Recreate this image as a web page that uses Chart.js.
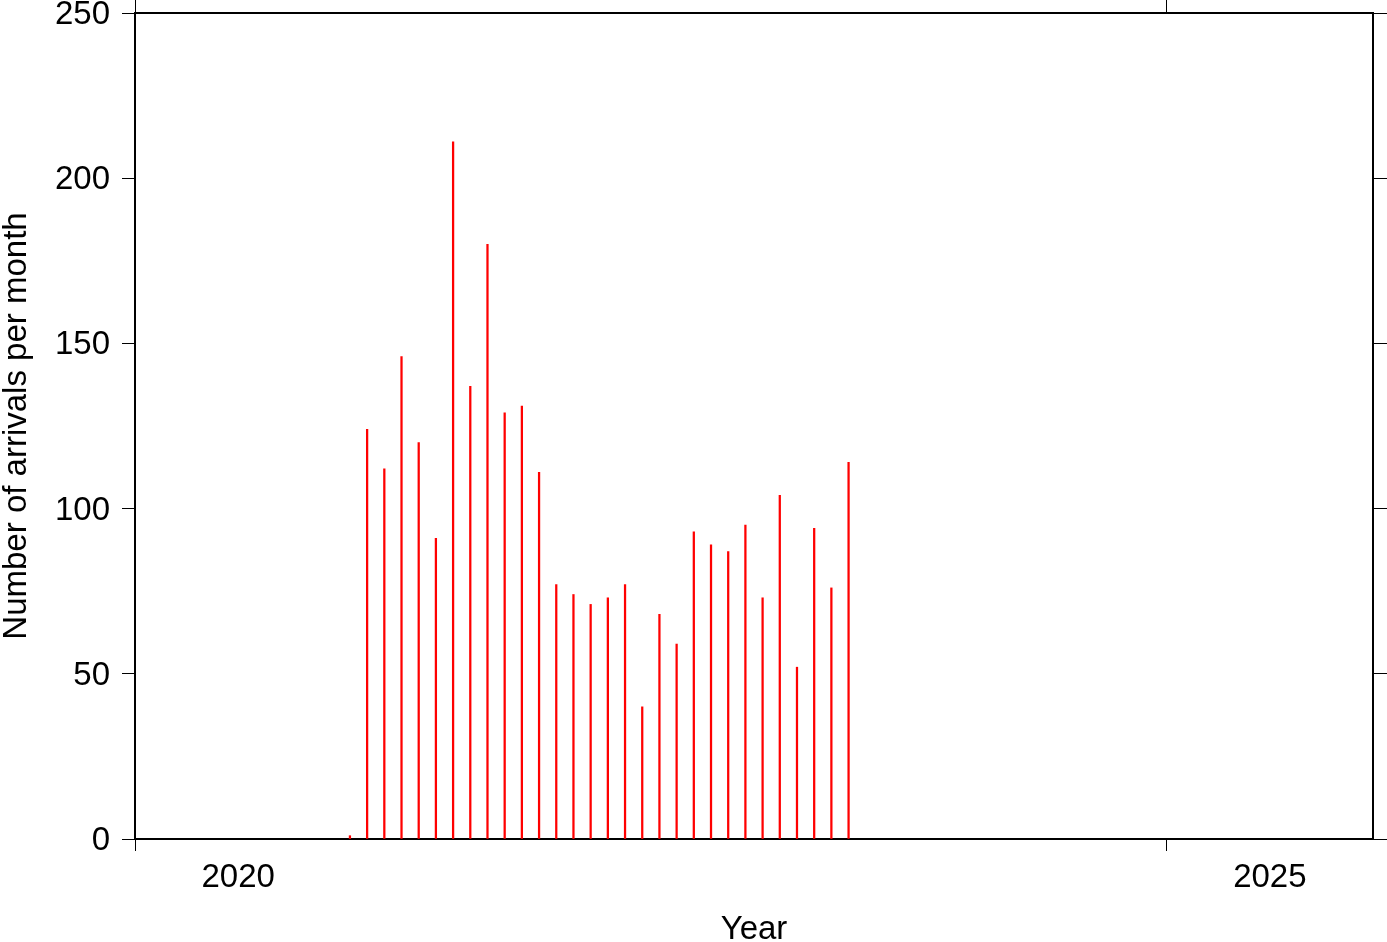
<!DOCTYPE html>
<html>
<head>
<meta charset="utf-8">
<script src="https://cdn.jsdelivr.net/npm/chart.js@4/dist/chart.umd.min.js"></script>
<style>
html,body{margin:0;padding:0;background:#fff;}
canvas{display:block;}
</style>
</head>
<body>
<canvas id="c" width="1387" height="942"></canvas>
<script>
const months = ['2021-01','2021-02','2021-03','2021-04','2021-05','2021-06','2021-07','2021-08','2021-09','2021-10','2021-11','2021-12',
                '2022-01','2022-02','2022-03','2022-04','2022-05','2022-06','2022-07','2022-08','2022-09','2022-10','2022-11','2022-12',
                '2023-01','2023-02','2023-03','2023-04','2023-05','2023-06'];
const arrivals = [1,124,112,146,120,91,211,137,180,129,131,111,
                  77,74,71,73,77,40,68,59,93,89,87,95,
                  73,104,52,94,76,114];
const xTickYears = [2020, 2025];
const xRange = [2020, 2026];
const yTicks = [0, 50, 100, 150, 200, 250];

const FONT = 'Liberation Sans, Arial, Helvetica, sans-serif';

const points = months.map((m, i) => {
  const [y, mo] = m.split('-').map(Number);
  return { x: y + (mo - 0.5) / 12, y: arrivals[i] };
});

const xBottomTicks = [];
xTickYears.forEach(y => { xBottomTicks.push({ value: y }); xBottomTicks.push({ value: y + 0.5 }); });

function noPad(s) { s.paddingTop = 0; s.paddingBottom = 0; s.paddingLeft = 0; s.paddingRight = 0; }

new Chart(document.getElementById('c'), {
  type: 'bar',
  data: {
    datasets: [{
      data: points,
      backgroundColor: 'rgb(255,0,0)',
      borderWidth: 0,
      barThickness: 1.6,
      xAxisID: 'x',
      yAxisID: 'y'
    }]
  },
  options: {
    responsive: false,
    animation: false,
    layout: { padding: 0 },
    plugins: { legend: { display: false }, tooltip: { enabled: false } },
    scales: {
      x: {
        type: 'linear',
        position: 'bottom',
        min: xRange[0], max: xRange[1],
        offset: false,
        afterBuildTicks: s => { s.ticks = xBottomTicks.map(t => ({ value: t.value })); },
        afterFit: s => { s.height = 103; noPad(s); },
        ticks: {
          autoSkip: false, maxRotation: 0, padding: 7,
          color: '#000', font: { family: FONT, size: 33 },
          callback: v => (v % 1 ? String(Math.floor(v)) : '')
        },
        grid: {
          offset: false, drawOnChartArea: false, drawTicks: true, tickLength: 12,
          lineWidth: 1,
          color: '#000',
          tickColor: ctx => (ctx.tick && ctx.tick.value % 1 ? 'rgba(0,0,0,0)' : '#000')
        },
        border: { display: true, color: '#000', width: 2 },
        title: {
          display: true, text: 'Year', color: '#000',
          font: { family: FONT, size: 33, lineHeight: 0.8 },
          padding: { top: 0, bottom: -1 }
        }
      },
      xTop: {
        type: 'linear',
        position: 'top',
        min: xRange[0], max: xRange[1],
        offset: false,
        afterBuildTicks: s => { s.ticks = xTickYears.map(v => ({ value: v })); },
        afterFit: s => { s.height = 13; noPad(s); },
        ticks: { display: false },
        grid: { offset: false, drawOnChartArea: false, drawTicks: true, tickLength: 13, color: '#000', lineWidth: 1 },
        border: { display: true, color: '#000', width: 2 }
      },
      y: {
        type: 'linear',
        position: 'left',
        min: 0, max: 250,
        afterBuildTicks: s => { s.ticks = yTicks.map(v => ({ value: v })); },
        afterFit: s => { s.width = 135; noPad(s); },
        ticks: { padding: 12, labelOffset: 2, color: '#000', font: { family: FONT, size: 33 } },
        grid: { drawOnChartArea: false, drawTicks: true, tickLength: 13, color: '#000', lineWidth: 1 },
        border: { display: true, color: '#000', width: 2 },
        title: {
          display: true, text: 'Number of arrivals per month', color: '#000',
          font: { family: FONT, size: 33, lineHeight: 1 },
          padding: { top: 0, bottom: 0 }
        }
      },
      y2: {
        type: 'linear',
        position: 'right',
        min: 0, max: 250,
        afterBuildTicks: s => { s.ticks = yTicks.map(v => ({ value: v })); },
        afterFit: s => { s.width = 14; noPad(s); },
        ticks: { display: false },
        grid: { drawOnChartArea: false, drawTicks: true, tickLength: 14, color: '#000', lineWidth: 1 },
        border: { display: true, color: '#000', width: 2 }
      }
    }
  }
});
</script>
</body>
</html>
